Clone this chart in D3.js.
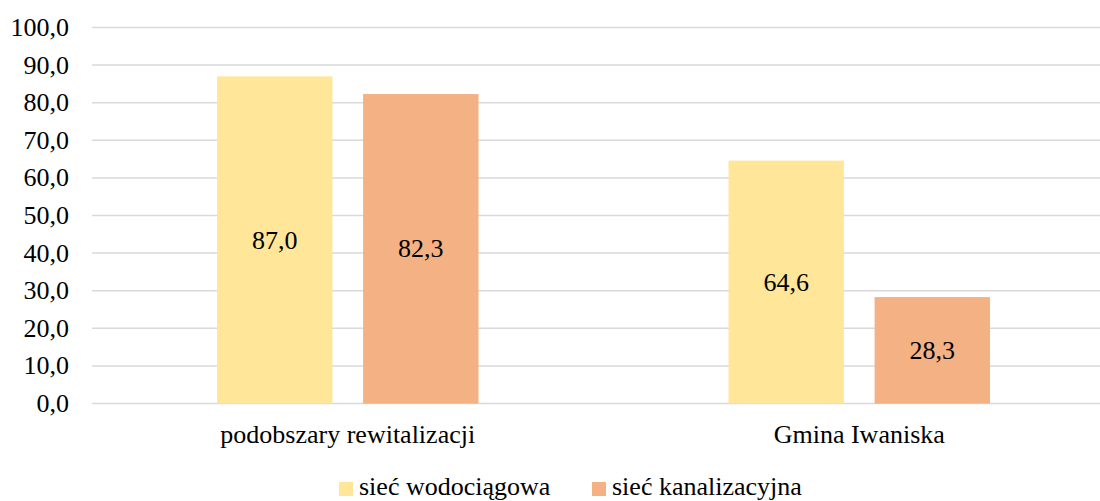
<!DOCTYPE html>
<html>
<head>
<meta charset="utf-8">
<script src="https://cdn.jsdelivr.net/npm/d3@7"></script>
</head>
<body style="margin:0">
<script>
// data
var categories = ["podobszary rewitalizacji", "Gmina Iwaniska"];
var seriesNames = ["sieć wodociągowa", "sieć kanalizacyjna"];
var wodociagowa = [87.0, 64.6];
var kanalizacyjna = [82.3, 28.3];
var yTicks = [0, 10, 20, 30, 40, 50, 60, 70, 80, 90, 100];

var colors = ["#FFE699", "#F4B183"];
var values = [wodociagowa, kanalizacyjna];
var font = "'Liberation Serif', 'Times New Roman', serif";
var fsize = "26px";

var width = 1100, height = 501;
var fmt = function (v) { return d3.format(".1f")(v).replace(".", ","); };

var svg = d3.select("body")
  .append("svg")
  .attr("width", width)
  .attr("height", height);

// scales
var y = d3.scaleLinear().domain([0, 100]).range([403.5, 27.5]);
var x0 = d3.scaleBand().domain(categories).range([92, 1115]).padding(0);
var x1 = d3.scaleBand().domain(seriesNames).range([125, x0.bandwidth() - 125]).paddingInner(0.21);

// gridlines
svg.append("g")
  .selectAll("line")
  .data(yTicks)
  .enter().append("line")
  .attr("x1", 92)
  .attr("x2", 1115)
  .attr("y1", function (d) { return y(d); })
  .attr("y2", function (d) { return y(d); })
  .attr("stroke", "#d9d9d9")
  .attr("stroke-width", 1.5);

// y axis labels
svg.append("g")
  .selectAll("text")
  .data(yTicks)
  .enter().append("text")
  .attr("x", 69)
  .attr("y", function (d) { return y(d); })
  .attr("dy", "0.33em")
  .attr("text-anchor", "end")
  .style("font-family", font)
  .style("font-size", fsize)
  .text(fmt);

// bars
var groups = svg.selectAll(".grp")
  .data(categories)
  .enter().append("g")
  .attr("class", "grp")
  .attr("transform", function (d) { return "translate(" + x0(d) + ",0)"; });

groups.each(function (cat, ci) {
  var g = d3.select(this);
  seriesNames.forEach(function (s, si) {
    var v = values[si][ci];
    g.append("rect")
      .attr("x", x1(s))
      .attr("y", y(v))
      .attr("width", x1.bandwidth())
      .attr("height", y(0) - y(v))
      .attr("fill", colors[si]);
    g.append("text")
      .attr("x", x1(s) + x1.bandwidth() / 2)
      .attr("y", (y(v) + y(0)) / 2)
      .attr("dy", "0.33em")
      .attr("text-anchor", "middle")
      .style("font-family", font)
      .style("font-size", fsize)
      .text(fmt(v));
  });
});

// category labels
svg.append("g")
  .selectAll("text")
  .data(categories)
  .enter().append("text")
  .attr("x", function (d) { return x0(d) + x0.bandwidth() / 2; })
  .attr("y", 443)
  .attr("text-anchor", "middle")
  .style("font-family", font)
  .style("font-size", fsize)
  .text(function (d) { return d; });

// legend
var legendX = [339, 592];
var legend = svg.selectAll(".legend")
  .data(seriesNames)
  .enter().append("g")
  .attr("class", "legend")
  .attr("transform", function (d, i) { return "translate(" + legendX[i] + ",482)"; });

legend.append("rect")
  .attr("width", 14)
  .attr("height", 14)
  .attr("fill", function (d, i) { return colors[i]; });

legend.append("text")
  .attr("x", 20)
  .attr("y", 13)
  .style("font-family", font)
  .style("font-size", fsize)
  .text(function (d) { return d; });
</script>
</body>
</html>
